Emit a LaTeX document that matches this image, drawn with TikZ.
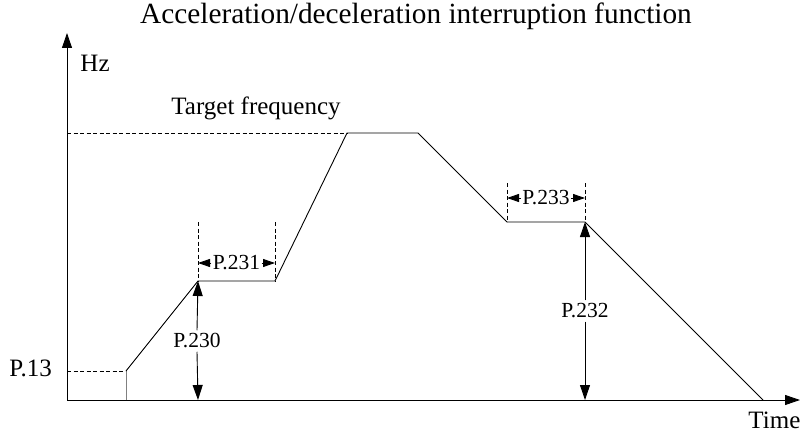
\documentclass[tikz,border=0pt]{standalone}
\usepackage{fontspec}
\setmainfont{Liberation Serif}
\usetikzlibrary{arrows.meta}
\begin{document}
\begin{tikzpicture}[x=1pt,y=-1pt,
  line width=0.9pt,
  axisarrow/.style={-{Triangle[length=15pt,width=10pt]}},
  bigtip/.style={-{Triangle[length=15pt,width=10pt]}},
  smalltip/.style={-{Triangle[length=12pt,width=8pt]}},
  guide/.style={dashed,line width=0.7pt,dash pattern=on 4pt off 2.5pt},
  lbl/.style={font=\fontsize{25}{30}\selectfont,inner sep=0pt},
  plbl/.style={font=\fontsize{21.5}{26}\selectfont,inner sep=1pt}]
\useasboundingbox (0,0) rectangle (801,436);
% coordinates
\coordinate (O) at (67,400);
\coordinate (ytop) at (67,33);
\coordinate (xend) at (800,400);
\coordinate (tl) at (67,133);
\coordinate (pl) at (67,371);
\coordinate (s0) at (126,400);
\coordinate (s1) at (126,371);
\coordinate (s2) at (198,281);
\coordinate (s3) at (275,281);
\coordinate (s4) at (347,133);
\coordinate (s5) at (418,133);
\coordinate (s6) at (507,222);
\coordinate (s7) at (585,222);
\coordinate (s8) at (763,400);
\coordinate (g1) at (198,222);
\coordinate (g2) at (275,222);
\coordinate (g3) at (507,183);
\coordinate (g4) at (585,183);
\coordinate (b2) at (198,400);
\coordinate (b7) at (585,400);
% axes
\draw[axisarrow] (O) -- (ytop);
\draw[axisarrow] (O) -- (xend);
% guides
\draw[guide] (tl) -- (s4);
\draw[guide] (pl) -- (s1);
\draw[guide] (g1) -- (s2);
\draw[guide] (g2) -- (s3);
\draw[guide] (g3) -- (s6);
\draw[guide] (g4) -- (s7);
% curve
\draw[gray] (s0) -- (s1);
\draw (s1) -- (s2) -- (s3) -- (s4) -- (s5) -- (s6) -- (s7) -- (s8);
% labels
\node[font=\fontsize{29.3}{35}\selectfont,inner sep=0pt] (title) at (416,16) {Acceleration/deceleration interruption function};
\node[lbl,anchor=base west] (hz) at (80,72) {Hz};
\node[lbl,anchor=base] (tf) at (256,114) {Target frequency};
\node[font=\fontsize{25}{30}\selectfont,inner sep=0pt,anchor=base west] (p13) at (9,376) {P.13};
\node[lbl,anchor=base west] (time) at (748,428) {Time};
% dimension labels
\node[plbl] (p231) at (236.5,263) {P.231};
\draw[smalltip] (p231.west) -- (198,263);
\draw[smalltip] (p231.east) -- (275,263);
\node[plbl] (p233) at (546,198) {P.233};
\draw[smalltip] (p233.west) -- (507,198);
\draw[smalltip] (p233.east) -- (585,198);
\node[plbl,fill=white,inner sep=3pt] (p230) at (197,341) {P.230};
\draw[bigtip] (p230.north) -- (s2);
\draw[bigtip] (p230.south) -- (b2);
\node[plbl,fill=white,inner sep=3pt] (p232) at (585,311) {P.232};
\draw[bigtip] (p232.north) -- (s7);
\draw[bigtip] (p232.south) -- (b7);
\end{tikzpicture}
\end{document}
